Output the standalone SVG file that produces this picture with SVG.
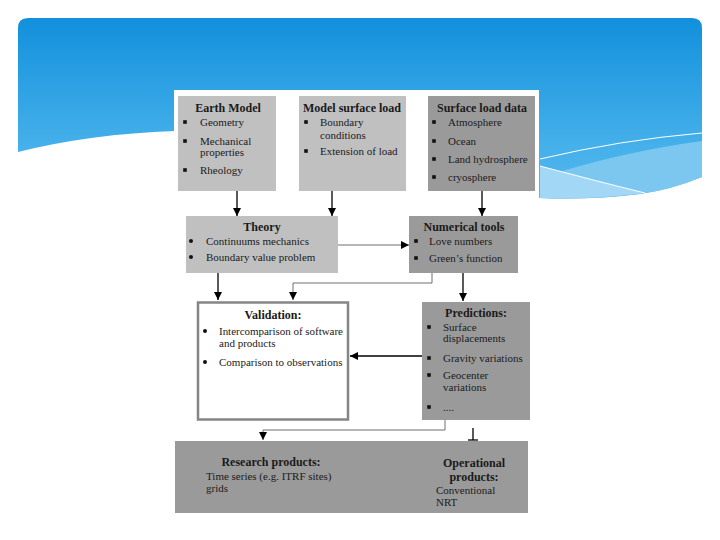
<svg xmlns="http://www.w3.org/2000/svg" width="720" height="540" viewBox="0 0 720 540">
<defs>
<linearGradient id="sky" x1="0" y1="18" x2="0" y2="200" gradientUnits="userSpaceOnUse">
<stop offset="0" stop-color="#1290dc"/>
<stop offset="0.7" stop-color="#45b0ea"/>
<stop offset="1" stop-color="#55b8ee"/>
</linearGradient>
<marker id="ah" viewBox="0 0 10 10" refX="10" refY="5" markerWidth="8" markerHeight="8" markerUnits="userSpaceOnUse" orient="auto">
<path d="M0,0 L10,5 L0,10 Z" fill="#000"/>
</marker>
<rect id="sq" x="-1.8" y="-1.8" width="3.6" height="3.6" fill="#111"/>
<circle id="dot" r="2" fill="#111"/>
<style>
text{font-family:"Liberation Serif","Times New Roman",serif;fill:#1a1a1a;font-size:11px}
.t{font-weight:bold;font-size:12px;text-anchor:middle}
.lt{fill:#c0c0c0}
.dk{fill:#9a9a9a}
.c{stroke:#000;stroke-width:1.3;fill:none}
.g{stroke:#6e6e6e;stroke-width:1;fill:none}
</style>
</defs>
<rect width="720" height="540" fill="#fff"/>
<g id="background">
<path d="M18,28 Q18,18 28,18 H692 Q702,18 702,28 V177 Q670,190 640,194 Q590,200 540,198 L360,160 L175,131 Q90,134 18,152 Z" fill="url(#sky)"/>
<path d="M540,178 Q620,152 702,141 V177 Q670,190 640,194 Q590,200 540,198 Z" fill="#7cc7f0"/>
<path d="M540,166 Q600,182 645,193 Q590,200 540,198 Z" fill="#a2d8f6"/>
<path d="M540,159 Q620,140 702,133" stroke="#fff" stroke-width="1" fill="none"/>
<path d="M540,166 Q600,182 645,193" stroke="#fff" stroke-width="1" fill="none"/>
<rect x="174" y="90" width="365" height="425" fill="#fff"/>
</g>
<g id="earth-model">
<rect class="lt" x="178" y="96" width="98" height="95"/>
<text class="t" x="228" y="112">Earth Model</text>
<use href="#sq" x="185" y="122"/><text x="200" y="126">Geometry</text>
<use href="#sq" x="185" y="141"/><text x="200" y="145">Mechanical</text>
<text x="200" y="156">properties</text>
<use href="#sq" x="185" y="170"/><text x="200" y="174">Rheology</text>
</g>
<g id="model-surface-load">
<rect class="lt" x="299" y="96" width="107" height="95"/>
<text class="t" x="352" y="112" font-size="11.5">Model surface load</text>
<use href="#sq" x="306" y="122"/><text x="320" y="126">Boundary</text>
<text x="320" y="139">conditions</text>
<use href="#sq" x="306" y="151"/><text x="320" y="155">Extension of load</text>
</g>
<g id="surface-load-data">
<rect class="dk" x="428" y="96" width="107" height="95"/>
<text class="t" x="482" y="112" font-size="11.5">Surface load data</text>
<use href="#sq" x="434" y="122"/><text x="448" y="126">Atmosphere</text>
<use href="#sq" x="434" y="141"/><text x="448" y="145">Ocean</text>
<use href="#sq" x="434" y="159"/><text x="448" y="163">Land hydrosphere</text>
<use href="#sq" x="434" y="177"/><text x="448" y="181">cryosphere</text>
</g>
<g id="theory">
<rect class="lt" x="186" y="216" width="152" height="57"/>
<text class="t" x="262" y="231">Theory</text>
<use href="#dot" x="191" y="241"/><text x="206" y="245">Continuums mechanics</text>
<use href="#dot" x="191" y="257"/><text x="206" y="261">Boundary value problem</text>
</g>
<g id="numerical-tools">
<rect class="dk" x="409" y="216" width="109" height="57"/>
<text class="t" x="464" y="231">Numerical tools</text>
<use href="#sq" x="416" y="241"/><text x="429" y="245">Love numbers</text>
<use href="#sq" x="416" y="258"/><text x="429" y="262">Green’s function</text>
</g>
<g id="validation">
<rect x="198" y="302.5" width="150" height="117" fill="#fff" stroke="#858585" stroke-width="2.5"/>
<text class="t" x="273" y="319" font-size="15">Validation:</text>
<use href="#dot" x="205" y="331"/><text x="219" y="335" textLength="124" lengthAdjust="spacing">Intercomparison of software</text>
<text x="219" y="347">and products</text>
<use href="#dot" x="205" y="362"/><text x="219" y="366">Comparison to observations</text>
</g>
<g id="predictions">
<rect class="dk" x="422" y="302" width="108" height="118"/>
<text class="t" x="476" y="317" font-size="11.5">Predictions:</text>
<use href="#sq" x="429" y="327"/><text x="443" y="331">Surface</text>
<text x="443" y="342">displacements</text>
<use href="#sq" x="429" y="358"/><text x="443" y="362">Gravity variations</text>
<use href="#sq" x="429" y="375"/><text x="443" y="379">Geocenter</text>
<text x="443" y="391">variations</text>
<use href="#sq" x="429" y="407"/><text x="443" y="411">....</text>
</g>
<g id="products">
<rect class="dk" x="175" y="441" width="353" height="72"/>
<text class="t" x="271" y="466">Research products:</text>
<text x="206" y="480">Time series (e.g. ITRF sites)</text>
<text x="206" y="492">grids</text>
<text class="t" x="474" y="467" font-size="15">Operational</text>
<text class="t" x="474" y="481" font-size="15">products:</text>
<text x="436" y="494">Conventional</text>
<text x="436" y="506">NRT</text>
</g>
<g id="connectors">
<line class="c" x1="237" y1="191" x2="237" y2="216" marker-end="url(#ah)"/>
<line class="c" x1="332" y1="191" x2="332" y2="216" marker-end="url(#ah)"/>
<line class="c" x1="482" y1="191" x2="482" y2="216" marker-end="url(#ah)"/>
<line class="g" x1="338" y1="245" x2="409" y2="245" marker-end="url(#ah)"/>
<line class="c" x1="218" y1="273" x2="218" y2="300" marker-end="url(#ah)"/>
<polyline class="g" points="432,273 432,283 293,283 293,300" marker-end="url(#ah)"/>
<line class="c" x1="463" y1="273" x2="463" y2="301" marker-end="url(#ah)"/>
<line class="c" x1="422" y1="356" x2="350" y2="356" marker-end="url(#ah)"/>
<polyline class="g" points="445,420 445,430 263,430 263,440" marker-end="url(#ah)"/>
<line class="c" x1="473" y1="428" x2="473" y2="440" stroke-width="1"/>
<line class="c" x1="468" y1="440" x2="478" y2="440" stroke-width="1"/>
</g>
</svg>
